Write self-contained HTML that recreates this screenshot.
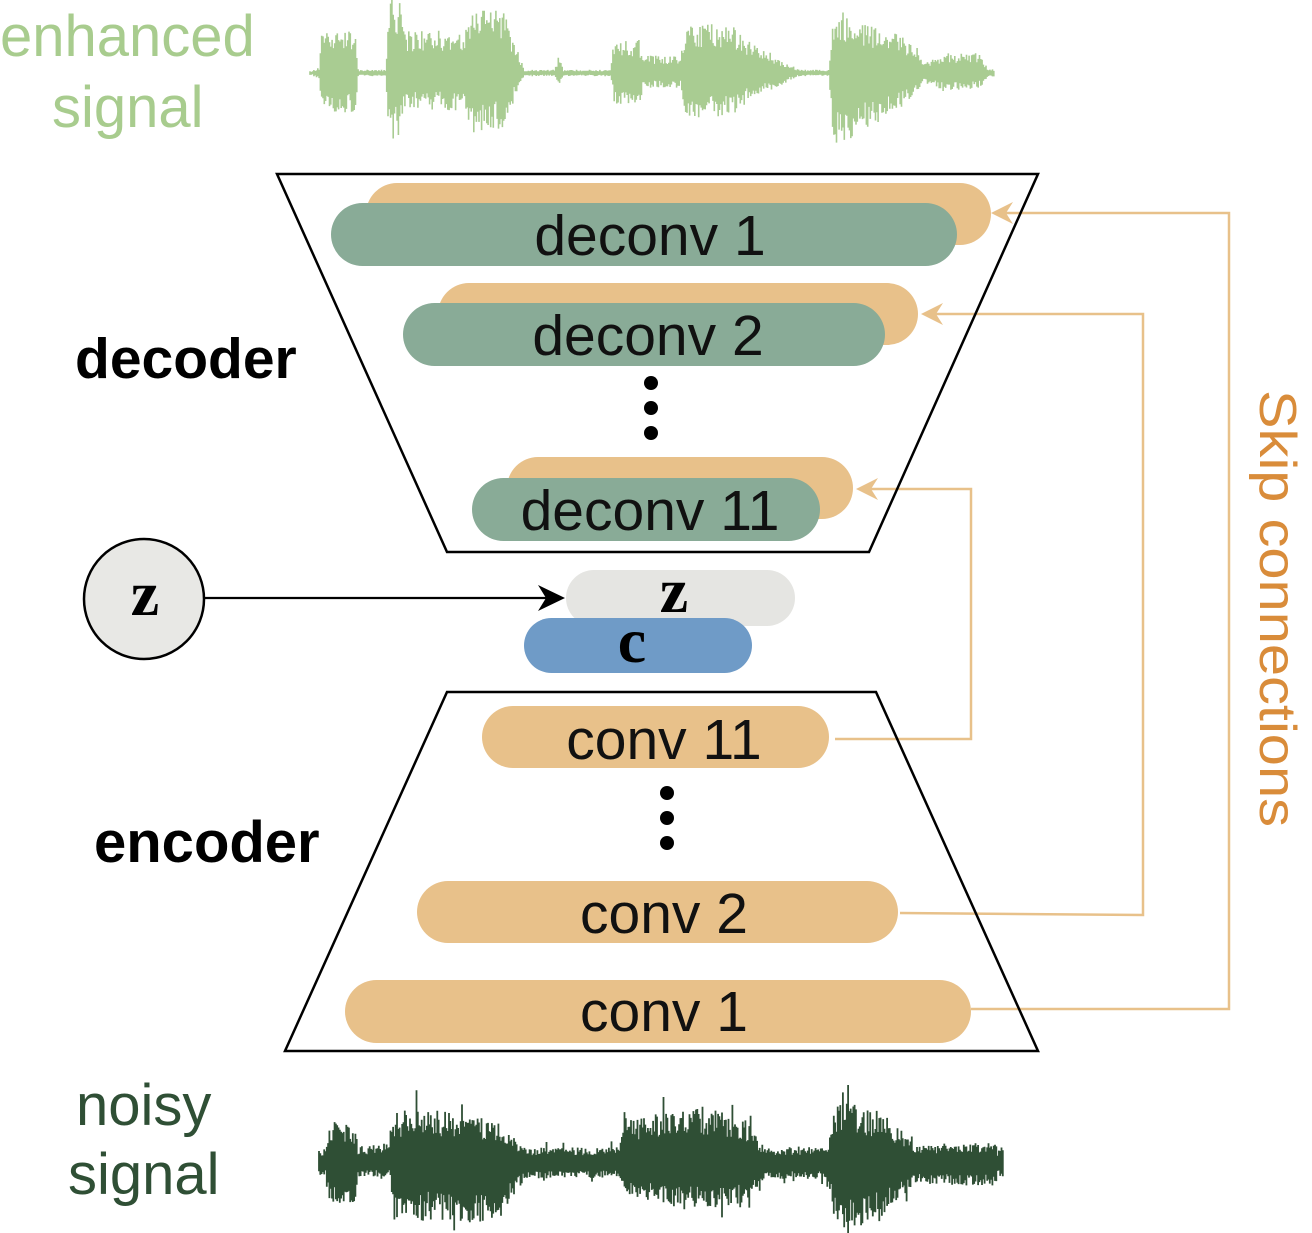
<!DOCTYPE html>
<html><head><meta charset="utf-8"><style>
html,body{margin:0;padding:0;background:#fff}
svg{display:block}
text{font-family:"Liberation Sans",sans-serif}
</style></head><body>
<svg id="s" width="1312" height="1233" viewBox="0 0 1312 1233" xmlns="http://www.w3.org/2000/svg">
<g id="wave1" stroke="#a9cc92" stroke-width="1.6"></g>
<g id="wave2" stroke="#2f4f35" stroke-width="1.8"></g>

<text x="0" y="56" font-size="58" fill="#a8cc8e">enhanced</text>
<text x="52" y="127" font-size="58" fill="#a8cc8e">signal</text>
<text x="76" y="1125" font-size="58" fill="#2f4f35">noisy</text>
<text x="68" y="1194" font-size="58" fill="#2f4f35">signal</text>
<text x="75" y="378" font-size="57" font-weight="bold" fill="#000">decoder</text>
<text x="94" y="862" font-size="58" font-weight="bold" fill="#000">encoder</text>

<!-- skip connections -->
<g fill="none" stroke="#e8c18a" stroke-width="2.5">
<polyline points="835,739 971,739 971,489 862,489"/>
<polyline points="900,913 1143,915 1143,314 927,314"/>
<polyline points="971,1009 1229,1009 1229,213 997,213"/>
</g>
<g fill="#e8c18a">
<path d="M856,489 L878,478 L871,489 L878,500 Z"/>
<path d="M921,314 L943,303 L936,314 L943,325 Z"/>
<path d="M991,213 L1013,202 L1006,213 L1013,224 Z"/>
</g>
<text transform="translate(1260,390) rotate(90)" font-size="52" fill="#d98c3a" textLength="437" lengthAdjust="spacingAndGlyphs">Skip connections</text>

<!-- trapezoids -->
<polygon points="277,174 1038,174 869,552 447,552" fill="none" stroke="#000" stroke-width="2.5"/>
<polygon points="447,692 876,692 1038,1051 285,1051" fill="none" stroke="#000" stroke-width="2.5"/>

<!-- decoder pills -->
<rect x="366" y="183" width="625" height="62" rx="31" fill="#e8c18a"/>
<rect x="331" y="203" width="626" height="63" rx="31.5" fill="#89ab97"/>
<text x="650" y="255" font-size="57" text-anchor="middle" fill="#111">deconv 1</text>
<rect x="438" y="283" width="480" height="62" rx="31" fill="#e8c18a"/>
<rect x="403" y="303" width="482" height="63" rx="31.5" fill="#89ab97"/>
<text x="648" y="355" font-size="57" text-anchor="middle" fill="#111">deconv 2</text>
<circle cx="651" cy="383" r="7"/><circle cx="651" cy="408" r="7"/><circle cx="651" cy="433" r="7"/>
<rect x="507" y="457" width="346" height="62" rx="31" fill="#e8c18a"/>
<rect x="472" y="478" width="348" height="63" rx="31.5" fill="#89ab97"/>
<text x="650" y="530" font-size="57" text-anchor="middle" fill="#111">deconv 11</text>

<!-- z / c -->
<rect x="566" y="570" width="229" height="56" rx="28" fill="#e5e5e2"/>
<text x="674" y="612" font-size="64" font-weight="bold" text-anchor="middle" style="font-family:'Liberation Serif',serif">z</text>
<rect x="524" y="618" width="228" height="55" rx="27.5" fill="#6f9bc7"/>
<text x="632" y="662" font-size="64" font-weight="bold" text-anchor="middle" style="font-family:'Liberation Serif',serif">c</text>
<circle cx="144" cy="599" r="60" fill="#e8e8e5" stroke="#000" stroke-width="2.5"/>
<text x="145" y="615" font-size="64" font-weight="bold" text-anchor="middle" style="font-family:'Liberation Serif',serif">z</text>
<line x1="205" y1="598" x2="550" y2="598" stroke="#000" stroke-width="2.2"/>
<path d="M565,598 L538,585 L546,598 L538,611 Z" fill="#000"/>

<!-- encoder pills -->
<rect x="482" y="706" width="347" height="62" rx="31" fill="#e8c18a"/>
<text x="664" y="759" font-size="57" text-anchor="middle" fill="#111">conv 11</text>
<circle cx="667" cy="793" r="7"/><circle cx="667" cy="818" r="7"/><circle cx="667" cy="843" r="7"/>
<rect x="417" y="881" width="481" height="62" rx="31" fill="#e8c18a"/>
<text x="664" y="933" font-size="57" text-anchor="middle" fill="#111">conv 2</text>
<rect x="345" y="980" width="626" height="63" rx="31.5" fill="#e8c18a"/>
<text x="664" y="1031" font-size="57" text-anchor="middle" fill="#111">conv 1</text>
</svg>
<script>
(function(){
var seed=12345;function r(){seed=(seed*16807)%2147483647;return seed/2147483647;}
function interp(env,x){for(var i=0;i<env.length-1;i++){if(x>=env[i][0]&&x<=env[i+1][0]){var t=(x-env[i][0])/(env[i+1][0]-env[i][0]||1);return [env[i][1]+(env[i+1][1]-env[i][1])*t,env[i][2]+(env[i+1][2]-env[i][2])*t];}}return [0,0];}
function fix(env,ys){return env.map(function(p){return [300+(p[0]-300)*1.385,p[1]*ys,p[2]*ys];});}
function draw(id,env,cy,x0,x1,base,spk){
var g=document.getElementById(id),d="";
for(var x=x0;x<=x1;x+=1.3){var e=interp(env,x);var k=1;if(r()<spk)k=1.4;var up=Math.max(e[0],base)*(0.5+0.5*r())*k;var dn=Math.max(e[1],base)*(0.5+0.5*r())*(r()<spk?1.4:1);d+="M"+x.toFixed(1)+","+(cy-up).toFixed(1)+"V"+(cy+dn).toFixed(1);}
var p=document.createElementNS("http://www.w3.org/2000/svg","path");p.setAttribute("d",d);p.setAttribute("fill","none");g.appendChild(p);}
var e1=[[310,3,3],[314,5,5],[316,42,37],[340,42,37],[342,3,3],[362,3,3],[364,68,60],[372,70,62],[376,38,32],[420,40,35],[424,60,55],[448,58,50],[456,25,20],[462,3,3],[484,3,3],[487,18,14],[490,3,3],[524,3,3],[527,32,30],[545,30,28],[548,16,14],[575,16,14],[578,45,42],[610,45,40],[625,30,25],[660,3,3],[682,3,3],[685,58,66],[700,52,60],[745,28,22],[750,8,8],[765,18,17],[790,18,15],[797,4,4],[803,3,3]];
var e2=[[319,18,18],[322,40,40],[340,35,38],[342,15,12],[365,20,12],[368,50,55],[400,50,55],[445,40,60],[455,25,20],[460,15,15],[530,15,14],[535,40,30],[580,55,45],[620,45,40],[635,15,15],[680,15,15],[688,60,65],[720,48,55],[745,18,20],[800,20,22],[803,20,20]];
draw("wave1",fix(e1,1.1),73,310,995,2,0);
draw("wave2",fix(e2,1.05),1163,319,1003,14,0.06);
})();
</script>
</body></html>
